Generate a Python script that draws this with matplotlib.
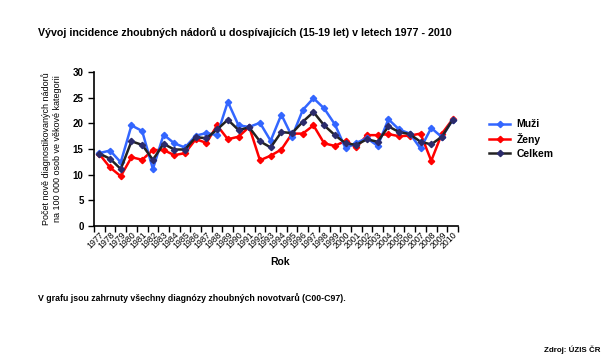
import matplotlib
matplotlib.use("Agg")
import matplotlib.pyplot as plt
import numpy as np

plt.rcParams['font.family'] = ['Liberation Sans', 'DejaVu Sans']

years = list(range(1977, 2011))
muzi = [14.2, 14.7, 12.4, 19.6, 18.5, 11.1, 17.8, 16.1, 15.3, 17.6,
        18.1, 17.7, 24.2, 19.6, 19.3, 20.1, 16.6, 21.7, 17.4, 22.6,
        24.9, 22.9, 19.8, 15.1, 16.2, 17.1, 15.6, 20.8, 18.8, 18.0,
        15.1, 19.1, 17.3, 20.7]
zeny = [14.0, 11.4, 9.7, 13.4, 12.9, 14.8, 14.8, 13.8, 14.2, 16.9,
        16.2, 19.6, 16.9, 17.4, 19.3, 12.8, 13.7, 14.9, 18.0, 18.0,
        19.6, 16.1, 15.6, 16.6, 15.3, 17.7, 17.7, 17.9, 17.5, 17.6,
        18.0, 12.7, 18.0, 20.8]
celkem = [14.1, 13.1, 11.1, 16.5, 15.8, 12.9, 16.0, 14.9, 14.9, 17.3,
          17.1, 18.8, 20.7, 18.7, 19.2, 16.5, 15.3, 18.3, 18.1, 20.3,
          22.2, 19.6, 17.7, 16.1, 15.8, 16.9, 16.4, 19.4, 18.3, 17.9,
          16.4, 15.9, 17.4, 20.7]

fig = plt.figure(figsize=(6.13, 3.63), dpi=100)
ax = fig.add_axes([94/613, 1 - 226/363, (458-94)/613, (226-72)/363])

x = np.arange(len(years))
ax.plot(x, muzi, color='#3366ff', lw=1.8, marker='D', ms=3.2, mec='#3366ff', label='Muži', zorder=3)
ax.plot(x, zeny, color='#ff0000', lw=1.8, marker='D', ms=3.2, mec='#ff0000', label='Ženy', zorder=2)
ax.plot(x, celkem, color='#222222', lw=1.8, marker='D', ms=3.2, mfc='#2b2b6b', mec='#2b2b6b', label='Celkem', zorder=4)

ax.set_xlim(-0.5, len(years) - 0.5)
ax.set_ylim(0, 30)
ax.set_yticks(range(0, 31, 5))
ax.set_xticks(np.arange(-0.5, len(years), 1.0))
ax.set_xticklabels([])
ax.set_xticks(x, minor=True)
ax.set_xticklabels([str(y) for y in years], minor=True, rotation=45, ha='right',
                   rotation_mode='anchor', fontsize=6.3)
ax.tick_params(axis='x', which='minor', length=0, pad=3)
ax.tick_params(axis='x', which='major', length=4, width=1, direction='out')
ax.tick_params(axis='y', length=4, width=1, direction='out', labelsize=7)
for lbl in ax.get_yticklabels():
    lbl.set_fontweight('bold')
for s in ['top', 'right']:
    ax.spines[s].set_visible(False)
for s in ['left', 'bottom']:
    ax.spines[s].set_linewidth(1.2)

ax.set_ylabel('Počet nově diagnostikovaných nádorů\nna 100 000 osob ve věkové kategorii',
              fontsize=6.5, labelpad=8)
fig.text(280/613, 1 - 262/363, 'Rok', fontsize=7.5, fontweight='bold', ha='center', va='center')

fig.text(38/613, 1 - 33/363,
         'Vývoj incidence zhoubných nádorů u dospívajících (15-19 let) v letech 1977 - 2010',
         fontsize=7.7, fontweight='bold', ha='left', va='center')
fig.text(38/613, 1 - 298/363,
         'V grafu jsou zahrnuty všechny diagnózy zhoubných novotvarů (C00-C97).',
         fontsize=6.3, fontweight='bold', ha='left', va='center')
fig.text(600/613, 1 - 350/363, 'Zdroj: ÚZIS ČR', fontsize=5.7, fontweight='bold',
         ha='right', va='center')

fig.legend(loc='upper left', bbox_to_anchor=(480/613, 1 - 110/363), frameon=False,
           prop={'weight': 'bold', 'size': 7.5}, handlelength=2.0,
           labelspacing=0.35, handletextpad=0.6)

fig.savefig('out.png', dpi=100)
